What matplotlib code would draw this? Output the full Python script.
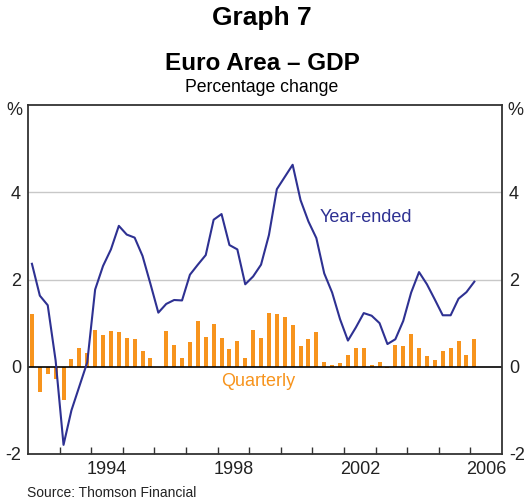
import numpy as np
import matplotlib
matplotlib.use('Agg')
import matplotlib.pyplot as plt

plt.rcParams['font.family'] = ['Liberation Sans', 'DejaVu Sans']

# Quarterly data 1992 Q1 - 2006 Q1 (per cent)
start_year = 1992
quarterly = [1.20, -0.58, -0.17, -0.28, -0.76, 0.17, 0.44, 0.31,
             0.85, 0.72, 0.81, 0.79, 0.67, 0.63, 0.35, 0.21,
             0.00, 0.81, 0.49, 0.21, 0.56, 1.06, 0.69, 0.99,
             0.67, 0.40, 0.58, 0.21, 0.85, 0.67, 1.24, 1.20,
             1.15, 0.95, 0.47, 0.63, 0.79, 0.12, 0.05, 0.08,
             0.28, 0.44, 0.42, 0.03, 0.11, -0.04, 0.51, 0.47,
             0.74, 0.42, 0.24, 0.15, 0.37, 0.42, 0.60, 0.28,
             0.63]
year_ended = [2.36, 1.63, 1.41, 0.14, -1.79, -1.00, -0.45, 0.10,
              1.77, 2.31, 2.69, 3.23, 3.03, 2.96, 2.54, 1.90,
              1.24, 1.44, 1.53, 1.52, 2.11, 2.34, 2.56, 3.37,
              3.50, 2.79, 2.69, 1.89, 2.07, 2.34, 3.02, 4.07,
              4.35, 4.63, 3.82, 3.33, 2.95, 2.14, 1.70, 1.09,
              0.60, 0.90, 1.23, 1.17, 1.00, 0.52, 0.63, 1.05,
              1.70, 2.17, 1.89, 1.54, 1.18, 1.18, 1.56, 1.71,
              1.95]
label_years = [1994, 1998, 2002, 2006]

blue = '#2e3192'
orange = '#f7941d'
txt = '#222222'

x = start_year + 0.125 + 0.25 * np.arange(len(quarterly))

fig = plt.figure(figsize=(5.24, 5.0), dpi=100)
ax = fig.add_axes([0.0534, 0.092, 0.9046, 0.698])

ax.bar(x, quarterly, width=0.125, color=orange, zorder=2)
ax.plot(x, year_ended, color=blue, linewidth=1.5, zorder=3)
ax.axhline(0, color='black', linewidth=1.2, zorder=2.5)
for g in [2, 4]:
    ax.axhline(g, color='#c8c8c8', linewidth=1.0, zorder=1)

ax.set_xlim(1992, 2007)
ax.set_ylim(-2, 6)

# year boundaries get tick marks, labels sit mid-year
ax.set_xticks(np.arange(1993, 2007))
ax.set_xticklabels([])
ax.set_xticks([y + 0.5 for y in label_years], minor=True)
ax.set_xticklabels([str(y) for y in label_years], minor=True, fontsize=13, color=txt)
ax.tick_params(axis='x', which='major', direction='in', length=5, width=1, color='#333333')
ax.tick_params(axis='x', which='minor', length=0, pad=5)

ax.set_yticks([-2, 0, 2, 4])
ax.set_yticklabels(['-2', '0', '2', '4'], fontsize=13, color=txt)
ax.tick_params(axis='y', which='both', length=0, labelleft=True, labelright=True, pad=5)

for s in ax.spines.values():
    s.set_color('#333333')
    s.set_linewidth(1.3)

ax.text(-0.028, 0.985, '%', transform=ax.transAxes, ha='center', va='center', fontsize=13, color=txt)
ax.text(1.028, 0.985, '%', transform=ax.transAxes, ha='center', va='center', fontsize=13, color=txt)

ax.text(2002.7, 3.41, 'Year-ended', color=blue, fontsize=13, ha='center', va='center')
ax.text(1999.28, -0.34, 'Quarterly', color=orange, fontsize=13, ha='center', va='center')

fig.text(0.5, 0.964, 'Graph 7', ha='center', va='center', fontsize=19, fontweight='bold')
fig.text(0.5, 0.874, 'Euro Area \u2013 GDP', ha='center', va='center', fontsize=17.5, fontweight='bold')
fig.text(0.5, 0.824, 'Percentage change', ha='center', va='center', fontsize=12.7)
fig.text(0.052, 0.014, 'Source: Thomson Financial', ha='left', va='center', fontsize=10, color=txt)

fig.savefig('out.png', dpi=100)
